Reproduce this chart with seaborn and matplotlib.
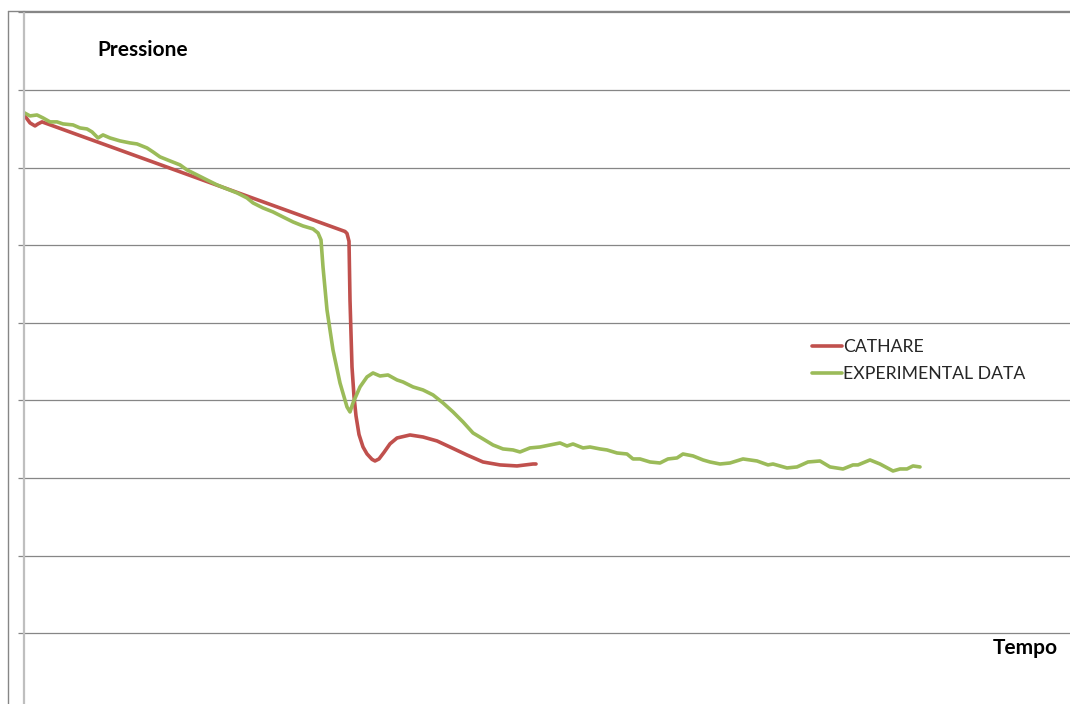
import numpy as np
import pandas as pd
import matplotlib
matplotlib.use("Agg")
import matplotlib.pyplot as plt
from matplotlib.lines import Line2D
import seaborn as sns

# CATHARE simulation: pressure vs time
cathare_t = [0.0, 0.6, 1.1, 1.4, 1.8, 32.1, 32.3, 32.5, 32.6, 32.8, 33.0, 33.2,
             33.5, 33.9, 34.3, 34.8, 35.1, 35.5, 36.0, 36.6, 37.3, 38.6, 39.9,
             41.3, 42.6, 44.3, 45.9, 47.6, 49.3, 50.9, 51.2]
cathare_p = [7.68, 7.575, 7.536, 7.562, 7.588, 6.176, 6.150, 6.05, 5.293, 4.430,
             4.05, 3.80, 3.56, 3.40, 3.31, 3.24, 3.219, 3.245, 3.33, 3.44, 3.515,
             3.554, 3.528, 3.477, 3.399, 3.296, 3.206, 3.168, 3.155, 3.180, 3.180]

# Experimental measurements: pressure vs time
exp_t = [0.0, 0.6, 1.3, 1.9, 2.6, 3.3, 3.9, 4.9, 5.6, 6.3, 6.8, 7.4, 7.9, 8.6,
         9.6, 10.6, 11.3, 12.3, 12.9, 13.6, 14.6, 15.6, 16.3, 17.3, 18.3, 19.3,
         20.3, 21.3, 22.3, 22.9, 23.9, 24.9, 25.9, 26.9, 27.9, 28.9, 29.4, 29.7,
         29.9, 30.3, 30.9, 31.6, 32.3, 32.6, 32.9, 33.6, 34.3, 34.9, 35.6, 36.4,
         37.3, 37.9, 38.9, 39.9, 40.9, 41.9, 42.9, 43.9, 44.9, 45.9, 46.9, 47.9,
         48.9, 49.6, 50.6, 51.6, 52.6, 53.6, 54.3, 54.9, 55.9, 56.6, 57.6, 58.3,
         59.3, 60.3, 60.9, 61.6, 62.6, 63.6, 64.4, 65.3, 65.9, 66.9, 67.9, 68.6,
         69.6, 70.6, 71.9, 73.3, 74.4, 74.9, 76.3, 77.3, 78.4, 79.6, 80.6, 81.9,
         82.9, 83.4, 84.6, 85.6, 86.9, 87.6, 88.3, 88.9, 89.6]
exp_p = [7.707, 7.665, 7.677, 7.639, 7.588, 7.588, 7.562, 7.549, 7.510, 7.497,
         7.459, 7.381, 7.420, 7.381, 7.343, 7.317, 7.304, 7.252, 7.201, 7.137,
         7.085, 7.034, 6.969, 6.905, 6.840, 6.776, 6.724, 6.673, 6.608, 6.544,
         6.479, 6.428, 6.363, 6.299, 6.247, 6.209, 6.157, 6.067, 5.719, 5.165,
         4.649, 4.224, 3.915, 3.851, 3.967, 4.173, 4.302, 4.353, 4.314, 4.327,
         4.263, 4.237, 4.173, 4.134, 4.070, 3.967, 3.851, 3.722, 3.580, 3.503,
         3.425, 3.374, 3.361, 3.335, 3.387, 3.399, 3.425, 3.451, 3.412, 3.438,
         3.387, 3.399, 3.374, 3.361, 3.322, 3.309, 3.245, 3.245, 3.206, 3.193,
         3.245, 3.258, 3.309, 3.284, 3.232, 3.206, 3.180, 3.193, 3.245, 3.219,
         3.168, 3.180, 3.129, 3.142, 3.206, 3.219, 3.142, 3.116, 3.168, 3.168,
         3.232, 3.180, 3.090, 3.116, 3.116, 3.155, 3.142]

series_names = ["CATHARE", "EXPERIMENTAL DATA"]
series_colors = ["#C0504D", "#9BBB59"]
y_gridlines = [1, 2, 3, 4, 5, 6, 7, 8, 9]

df = pd.concat([
    pd.DataFrame({"t": cathare_t, "p": cathare_p, "serie": series_names[0]}),
    pd.DataFrame({"t": exp_t, "p": exp_p, "serie": series_names[1]}),
], ignore_index=True)

sns.set_theme(style="white")
plt.rcParams["font.family"] = ["Lato", "DejaVu Sans"]

W, H = 1070, 704
fig = plt.figure(figsize=(W / 100, H / 100), dpi=100)
ax = fig.add_axes([24 / W, 0.0, 1 - 24 / W, (H - 12.3) / H])

sns.lineplot(data=df, x="t", y="p", hue="serie", palette=series_colors,
             hue_order=series_names, estimator=None, sort=False,
             linewidth=2.6, ax=ax, legend=False)

ax.set_xlim(0, 104.6)
ax.set_ylim(1 - (H - 633.2) / 77.6, 9)
ax.set_yticks(y_gridlines)
ax.set_yticklabels([])
ax.set_xticks([])
ax.set_xlabel("")
ax.set_ylabel("")
ax.grid(axis="y", color="#868686", linewidth=0.9)
ax.set_axisbelow(True)
for side in ["top", "right", "bottom"]:
    ax.spines[side].set_visible(False)
ax.spines["left"].set_color("#BFBFBF")
ax.spines["left"].set_linewidth(1.6)
ax.tick_params(axis="y", left=True, length=4.5, width=0.9, color="#868686")

# outer chart frame
fig.add_artist(Line2D([8 / W, 8 / W], [0, (H - 10.5) / H], color="#868686",
                      linewidth=1.0, transform=fig.transFigure))
fig.add_artist(Line2D([8 / W, 1], [(H - 10.5) / H, (H - 10.5) / H], color="#868686",
                      linewidth=1.0, transform=fig.transFigure))

fig.text(97 / W, 1 - 50 / H, "Pressione", fontsize=15, fontweight="bold",
         ha="left", va="center", color="#000000")
fig.text(993 / W, 1 - 648 / H, "Tempo", fontsize=15, fontweight="bold",
         ha="left", va="center", color="#000000")

handles = [Line2D([], [], color=c, linewidth=2.6) for c in series_colors]
ax.legend(handles, series_names, loc="upper left",
          bbox_to_anchor=(812 / W, 1 - 339.5 / H), bbox_transform=fig.transFigure,
          frameon=False, fontsize=12.7, handlelength=1.7, handletextpad=0.08,
          labelspacing=0.6, borderpad=0, borderaxespad=0)

fig.savefig("out.png", dpi=100)
